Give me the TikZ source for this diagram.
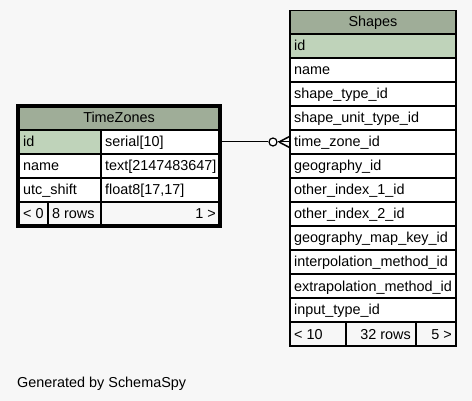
\documentclass[tikz,border=0pt]{standalone}
\usepackage{fontspec}
\setmainfont{Liberation Sans}
\definecolor{bgc}{HTML}{F7F7F7}
\definecolor{hdr}{HTML}{9FAD98}
\definecolor{pkc}{HTML}{BFD3BA}
\tikzset{
  cellbox/.style={draw=black, line width=0.9pt, fill=white},
  hdrbox/.style={draw=black, line width=0.9pt, fill=hdr},
  pkbox/.style={draw=black, line width=0.9pt, fill=pkc},
  footbox/.style={draw=black, line width=0.9pt, fill=bgc},
  txt/.style={inner sep=0pt, anchor=base west},
  txtr/.style={inner sep=0pt, anchor=base east},
  txtc/.style={inner sep=0pt, anchor=base},
  conn/.style={draw=black, line width=1pt}
}
\begin{document}
\begin{tikzpicture}[x=1pt,y=-1pt,font=\fontsize{14.4}{16}\selectfont]
\fill[bgc] (0,0) rectangle (472,401);
\useasboundingbox (0,0) rectangle (472,401);

% ---------------- Shapes table ----------------
\draw[line width=1pt, fill=white] (289.5,10.5) rectangle (456.5,346.5);
\path[hdrbox] (290.5,10.5) rectangle (455.5,33.5);
\node[txtc] (sh-title) at (373,27) {Shapes};
\path[pkbox] (290.5,34.5) rectangle (455.5,57.5);
\node[txt] (sh-id) at (294,51) {id};
\foreach \t [count=\i] in {name,shape\_type\_id,shape\_unit\_type\_id,time\_zone\_id,geography\_id,other\_index\_1\_id,other\_index\_2\_id,geography\_map\_key\_id,interpolation\_method\_id,extrapolation\_method\_id,input\_type\_id}{
  \pgfmathsetmacro{\top}{58+24*(\i-1)}
  \path[cellbox] (290.5,\top+0.5) rectangle (455.5,\top+23.5);
  \node[txt] (sh-r\i) at (294,\top+17) {\t};
}
\path[footbox] (290.5,322.5) rectangle (345.5,345.5);
\path[footbox] (346.5,322.5) rectangle (415.5,345.5);
\path[footbox] (416.5,322.5) rectangle (455.5,345.5);
\node[txt] (sh-prev) at (294,339) {< 10};
\node[txtr] (sh-rows) at (411,339) {32 rows};
\node[txtr] (sh-next) at (452,339) {5 >};

% ---------------- TimeZones table ----------------
\draw[line width=3pt, fill=white] (17.5,105.5) rectangle (220.5,226.5);
\path[hdrbox] (19.5,107.5) rectangle (218.5,129.5);
\node[txtc] (tz-title) at (119,123) {TimeZones};
\path[pkbox] (19.5,130.5) rectangle (100.5,153.5);
\path[cellbox] (101.5,130.5) rectangle (218.5,153.5);
\node[txt] (tz-id) at (23,147) {id};
\node[txt] (tz-idt) at (105,147) {serial[10]};
\path[cellbox] (19.5,154.5) rectangle (100.5,177.5);
\path[cellbox] (101.5,154.5) rectangle (218.5,177.5);
\node[txt] (tz-name) at (23,171) {name};
\node[txt] (tz-namet) at (105,171) {text[2147483647]};
\path[cellbox] (19.5,178.5) rectangle (100.5,201.5);
\path[cellbox] (101.5,178.5) rectangle (218.5,201.5);
\node[txt] (tz-utc) at (23,195) {utc\_shift};
\node[txt] (tz-utct) at (105,195) {float8[17,17]};
\path[footbox] (19.5,202.5) rectangle (47.5,224.5);
\path[footbox] (48.5,202.5) rectangle (100.5,224.5);
\path[footbox] (101.5,202.5) rectangle (218.5,224.5);
\node[txt] (tz-prev) at (23,219) {< 0};
\node[txt] (tz-rows) at (52,219) {8 rows};
\node[txtr] (tz-next) at (216,219) {1 >};

% ---------------- connector ----------------
\coordinate (tz-out) at (222,142);
\coordinate (fk-apex) at (279,142);
\coordinate (fk-top) at (289.5,136.5);
\coordinate (fk-mid) at (289.5,142);
\coordinate (fk-bot) at (289.5,147.5);
\node[circle, draw=black, fill=white, line width=1.2pt, minimum size=8pt, inner sep=0pt] (opt) at (273,142) {};
\draw[conn] (tz-out) -- (opt.west);
\draw[conn] (opt.east) -- (fk-mid);
\draw[conn, line width=1.5pt] (fk-apex) -- (fk-top);
\draw[conn, line width=1.5pt] (fk-apex) -- (fk-bot);

% ---------------- footer text ----------------
\node[txt] (gen) at (17,387) {Generated by SchemaSpy};
\end{tikzpicture}
\end{document}
